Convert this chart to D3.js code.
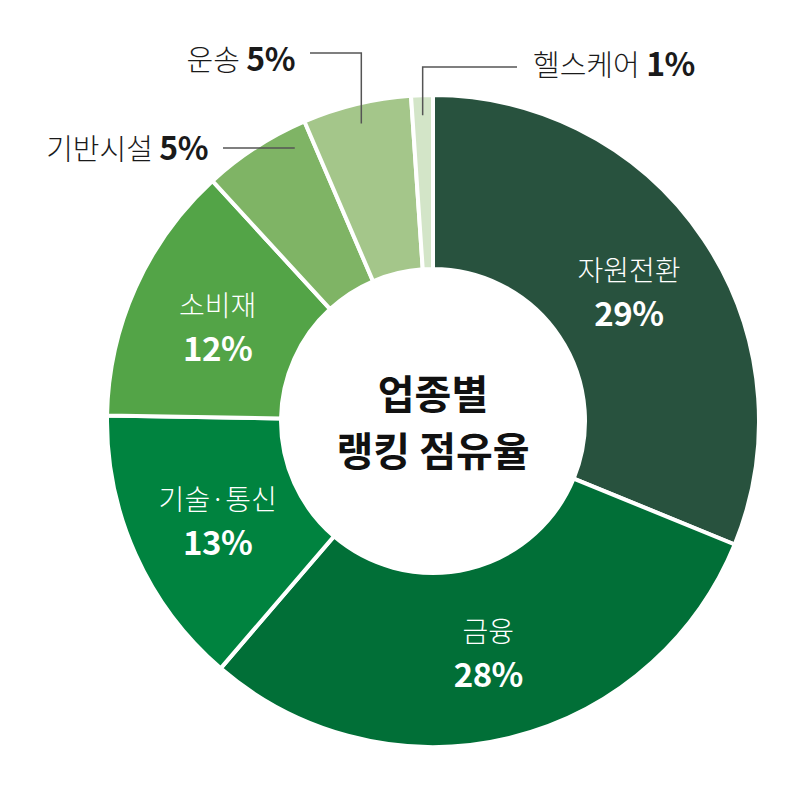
<!DOCTYPE html>
<html>
<head>
<meta charset="utf-8">
<script src="https://cdn.jsdelivr.net/npm/d3@7"></script>
<style>
  html, body { margin: 0; padding: 0; background: #fff; }
  svg { display: block; font-family: "Noto Sans CJK KR", "Noto Sans", sans-serif; }
</style>
</head>
<body>
<svg id="chart" width="800" height="798"></svg>
<script>
// data, clockwise from 12 o'clock
const sectors = ["자원전환", "금융", "기술·통신", "소비재", "기반시설", "운송", "헬스케어"];
const shares  = [29, 28, 13, 12, 5, 5, 1];
const colors  = ["#28523e", "#016f37", "#00833f", "#53a447", "#7fb465", "#a4c68a", "#d3e5c8"];
const centerTitle = ["업종별", "랭킹 점유율"];

const svg = d3.select("#chart");
const cx = 433, cy = 421;
const rOuter = 326, rInner = 152;

const g = svg.append("g").attr("transform", `translate(${cx},${cy})`);

const pie = d3.pie().sort(null).value(d => d.value);
const arcs = pie(sectors.map((s, i) => ({ name: s, value: shares[i], color: colors[i] })));

const arc = d3.arc().innerRadius(rInner).outerRadius(rOuter);

g.selectAll("path.slice")
  .data(arcs)
  .join("path")
  .attr("class", "slice")
  .attr("d", arc)
  .attr("fill", d => d.data.color)
  .attr("stroke", "#fff")
  .attr("stroke-width", 4)
  .attr("stroke-linejoin", "miter");

// inside labels for big slices
const labelArc = d3.arc().innerRadius(236).outerRadius(236);
const inside = arcs.filter(d => d.data.value >= 10);

const inG = g.selectAll("g.inlabel")
  .data(inside)
  .join("g")
  .attr("class", "inlabel")
  .attr("transform", d => {
    const [x, y] = labelArc.centroid(d);
    return `translate(${x},${y})`;
  })
  .attr("text-anchor", "middle")
  .attr("fill", "#fff");

inG.append("text")
  .attr("y", -8)
  .attr("font-size", 28)
  .attr("font-weight", 300)
  .text(d => d.data.name);

inG.append("text")
  .attr("y", 37)
  .attr("font-size", 33)
  .attr("font-weight", 700)
  .attr("letter-spacing", -0.5)
  .text(d => d.data.value + "%");

// outside labels with leader lines
const rLead = 306;
const outside = arcs.filter(d => d.data.value < 10);
// layout for each small slice: "v" = horizontal then drop, "h" = straight horizontal
const outLayout = {
  "기반시설": { type: "h", lineY: 148, textX: 208, textY: 160, anchor: "end" },
  "운송":     { type: "v", lineY: 53,  textX: 295, textY: 71,  anchor: "end" },
  "헬스케어": { type: "v", lineY: 67,  textX: 533, textY: 76,  anchor: "start" }
};

outside.forEach(d => {
  const L = outLayout[d.data.name];
  const mid = (d.startAngle + d.endAngle) / 2;
  let pts;
  if (L.type === "v") {
    const x = cx + rLead * Math.sin(mid);
    const y = cy - rLead * Math.cos(mid);
    const x0 = L.anchor === "end" ? L.textX + 15 : L.textX - 16;
    pts = [[x0, L.lineY], [x, L.lineY], [x, y]];
  } else {
    const dy = L.lineY - cy;
    const x = cx - Math.sqrt(rLead * rLead - dy * dy);
    pts = [[L.textX + 15, L.lineY], [x, L.lineY]];
  }
  svg.append("path")
    .attr("d", d3.line()(pts))
    .attr("fill", "none")
    .attr("stroke", "#555")
    .attr("stroke-width", 1.5);

  const t = svg.append("text")
    .attr("x", L.textX)
    .attr("y", L.textY)
    .attr("text-anchor", L.anchor)
    .attr("fill", "#1a1a1a");
  t.append("tspan").attr("font-size", 29).attr("font-weight", 300).text(d.data.name + " ");
  t.append("tspan").attr("font-size", 32).attr("font-weight", 700).attr("letter-spacing", -0.5)
    .text(d.data.value + "%");
});

// center title
g.append("text")
  .attr("text-anchor", "middle")
  .attr("font-size", 40)
  .attr("font-weight", 700)
  .attr("fill", "#111")
  .selectAll("tspan")
  .data(centerTitle)
  .join("tspan")
  .attr("x", 0)
  .attr("y", (d, i) => -12 + i * 57)
  .text(d => d);
</script>
</body>
</html>
